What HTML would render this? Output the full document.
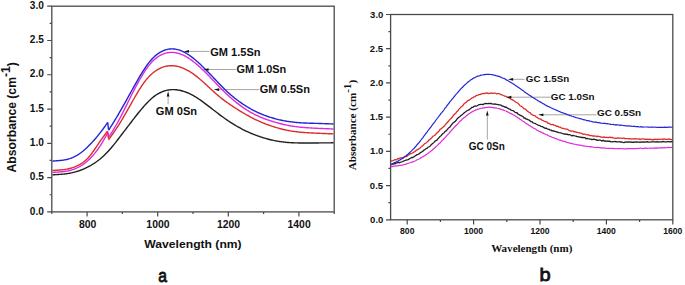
<!DOCTYPE html>
<html><head><meta charset="utf-8"><style>
html,body{margin:0;padding:0;background:#fff;}
svg{display:block;}
</style></head><body>
<svg width="685" height="285" viewBox="0 0 685 285">
<rect width="685" height="285" fill="#fff"/>
<line x1="188.50" y1="51.4" x2="209.5" y2="51.4" stroke="#9a9a9a" stroke-width="0.9"/>
<line x1="208.10" y1="69.5" x2="236" y2="69.5" stroke="#9a9a9a" stroke-width="0.9"/>
<line x1="218.60" y1="89.6" x2="259.3" y2="89.6" stroke="#9a9a9a" stroke-width="0.9"/>
<line x1="512.60" y1="79.3" x2="524.5" y2="79.3" stroke="#9a9a9a" stroke-width="0.9"/>
<line x1="510.90" y1="97.2" x2="550.5" y2="97.2" stroke="#9a9a9a" stroke-width="0.9"/>
<line x1="542.90" y1="114.8" x2="596.5" y2="114.8" stroke="#9a9a9a" stroke-width="0.9"/>
<line x1="168.1" y1="96.00" x2="168.1" y2="104.3" stroke="#9a9a9a" stroke-width="0.9"/>
<line x1="487.3" y1="115.10" x2="487.3" y2="139.6" stroke="#9a9a9a" stroke-width="0.9"/>
<rect x="51.8" y="6.2" width="282.4" height="205.70000000000002" fill="none" stroke="#4a4a4a" stroke-width="1.3"/>
<path d="M87.10,211.9v4.6 M157.70,211.9v4.6 M228.30,211.9v4.6 M298.90,211.9v4.6 M51.80,211.9v2.2 M122.40,211.9v2.2 M193.00,211.9v2.2 M263.60,211.9v2.2 M334.20,211.9v2.2 M51.8,211.90h-4.6 M51.8,177.62h-4.6 M51.8,143.33h-4.6 M51.8,109.05h-4.6 M51.8,74.77h-4.6 M51.8,40.48h-4.6 M51.8,6.20h-4.6 M51.8,194.76h-2.2 M51.8,160.47h-2.2 M51.8,126.19h-2.2 M51.8,91.91h-2.2 M51.8,57.62h-2.2 M51.8,23.34h-2.2" stroke="#4a4a4a" stroke-width="1.2" fill="none"/>
<polyline points="52.50,174.83 53.50,174.78 54.50,174.73 55.50,174.67 56.50,174.61 57.50,174.55 58.50,174.49 59.50,174.42 60.50,174.34 61.50,174.26 62.50,174.17 63.50,174.08 64.50,173.97 65.50,173.85 66.50,173.72 67.50,173.58 68.50,173.43 69.50,173.26 70.50,173.07 71.50,172.87 72.50,172.65 73.50,172.41 74.50,172.16 75.50,171.89 76.50,171.60 77.50,171.29 78.50,170.97 79.50,170.62 80.50,170.26 81.50,169.88 82.50,169.48 83.50,169.06 84.50,168.62 85.50,168.16 86.50,167.68 87.50,167.19 88.50,166.67 89.50,166.13 90.50,165.58 91.50,165.00 92.50,164.40 93.50,163.78 94.50,163.13 95.50,162.46 96.50,161.77 97.50,161.04 98.50,160.28 99.50,159.50 100.50,158.68 101.50,157.83 102.50,156.95 103.50,156.03 104.50,155.08 105.50,154.10 106.50,153.08 107.50,152.03 108.50,150.95 109.50,149.83 110.50,148.69 111.50,147.51 112.50,146.31 113.50,145.09 114.50,143.84 115.50,142.58 116.50,141.31 117.50,140.02 118.50,138.72 119.50,137.41 120.50,136.10 121.50,134.79 122.50,133.48 123.50,132.17 124.50,130.86 125.50,129.55 126.50,128.24 127.50,126.93 128.50,125.62 129.50,124.31 130.50,123.00 131.50,121.70 132.50,120.40 133.50,119.11 134.50,117.82 135.50,116.55 136.50,115.28 137.50,114.02 138.50,112.78 139.50,111.55 140.50,110.33 141.50,109.14 142.50,107.96 143.50,106.80 144.50,105.66 145.50,104.55 146.50,103.46 147.50,102.40 148.50,101.38 149.50,100.39 150.50,99.45 151.50,98.55 152.50,97.70 153.50,96.90 154.50,96.14 155.50,95.42 156.50,94.75 157.50,94.12 158.50,93.54 159.50,93.00 160.50,92.50 161.50,92.04 162.50,91.63 163.50,91.26 164.50,90.92 165.50,90.63 166.50,90.38 167.50,90.16 168.50,89.98 169.50,89.84 170.50,89.74 171.50,89.66 172.50,89.63 173.50,89.62 174.50,89.65 175.50,89.72 176.50,89.81 177.50,89.94 178.50,90.09 179.50,90.28 180.50,90.49 181.50,90.73 182.50,91.00 183.50,91.30 184.50,91.62 185.50,91.97 186.50,92.35 187.50,92.76 188.50,93.19 189.50,93.65 190.50,94.13 191.50,94.64 192.50,95.17 193.50,95.73 194.50,96.31 195.50,96.91 196.50,97.53 197.50,98.17 198.50,98.83 199.50,99.50 200.50,100.19 201.50,100.89 202.50,101.61 203.50,102.33 204.50,103.07 205.50,103.82 206.50,104.57 207.50,105.33 208.50,106.10 209.50,106.87 210.50,107.64 211.50,108.42 212.50,109.19 213.50,109.97 214.50,110.75 215.50,111.52 216.50,112.29 217.50,113.06 218.50,113.82 219.50,114.58 220.50,115.33 221.50,116.07 222.50,116.81 223.50,117.53 224.50,118.25 225.50,118.95 226.50,119.64 227.50,120.33 228.50,121.00 229.50,121.66 230.50,122.31 231.50,122.95 232.50,123.57 233.50,124.19 234.50,124.80 235.50,125.40 236.50,125.99 237.50,126.57 238.50,127.13 239.50,127.69 240.50,128.23 241.50,128.77 242.50,129.29 243.50,129.80 244.50,130.30 245.50,130.79 246.50,131.27 247.50,131.73 248.50,132.19 249.50,132.63 250.50,133.06 251.50,133.48 252.50,133.89 253.50,134.29 254.50,134.69 255.50,135.07 256.50,135.44 257.50,135.81 258.50,136.16 259.50,136.51 260.50,136.84 261.50,137.17 262.50,137.49 263.50,137.80 264.50,138.11 265.50,138.40 266.50,138.68 267.50,138.96 268.50,139.22 269.50,139.48 270.50,139.73 271.50,139.97 272.50,140.19 273.50,140.41 274.50,140.62 275.50,140.82 276.50,141.01 277.50,141.18 278.50,141.35 279.50,141.51 280.50,141.66 281.50,141.80 282.50,141.93 283.50,142.05 284.50,142.16 285.50,142.26 286.50,142.36 287.50,142.44 288.50,142.52 289.50,142.59 290.50,142.65 291.50,142.71 292.50,142.76 293.50,142.80 294.50,142.84 295.50,142.87 296.50,142.90 297.50,142.92 298.50,142.94 299.50,142.96 300.50,142.97 301.50,142.98 302.50,142.99 303.50,143.00 304.50,143.00 305.50,143.00 306.50,143.00 307.50,143.00 308.50,143.00 309.50,142.99 310.50,142.99 311.50,142.98 312.50,142.97 313.50,142.97 314.50,142.96 315.50,142.95 316.50,142.94 317.50,142.93 318.50,142.93 319.50,142.92 320.50,142.91 321.50,142.90 322.50,142.89 323.50,142.89 324.50,142.88 325.50,142.87 326.50,142.86 327.50,142.85 328.50,142.84 329.50,142.83 330.50,142.83 331.50,142.82 332.50,142.81 333.50,142.80" fill="none" stroke="#202020" stroke-width="1.4" stroke-linejoin="round"/>
<polyline points="52.50,170.45 53.50,170.41 54.50,170.36 55.50,170.31 56.50,170.25 57.50,170.19 58.50,170.12 59.50,170.05 60.50,169.96 61.50,169.86 62.50,169.75 63.50,169.63 64.50,169.50 65.50,169.34 66.50,169.17 67.50,168.98 68.50,168.76 69.50,168.53 70.50,168.27 71.50,167.99 72.50,167.68 73.50,167.34 74.50,166.97 75.50,166.57 76.50,166.13 77.50,165.67 78.50,165.16 79.50,164.62 80.50,164.04 81.50,163.42 82.50,162.75 83.50,162.03 84.50,161.25 85.50,160.40 86.50,159.50 87.50,158.51 88.50,157.46 89.50,156.32 90.50,155.09 91.50,153.78 92.50,152.41 93.50,150.98 94.50,149.52 95.50,148.03 96.50,146.53 97.50,145.04 98.50,143.57 99.50,142.13 100.50,140.71 101.50,139.31 102.50,137.93 103.50,136.56 104.50,135.21 105.50,133.86 106.50,132.52 107.50,131.18" fill="none" stroke="#dc2c2c" stroke-width="1.4" stroke-linejoin="round"/>
<polyline points="108.50,139.85 109.50,138.46 110.50,137.07 111.50,135.68 112.50,134.27 113.50,132.85 114.50,131.40 115.50,129.94 116.50,128.45 117.50,126.92 118.50,125.37 119.50,123.77 120.50,122.15 121.50,120.50 122.50,118.82 123.50,117.12 124.50,115.40 125.50,113.66 126.50,111.91 127.50,110.15 128.50,108.38 129.50,106.61 130.50,104.83 131.50,103.05 132.50,101.28 133.50,99.52 134.50,97.77 135.50,96.03 136.50,94.32 137.50,92.63 138.50,90.97 139.50,89.35 140.50,87.76 141.50,86.23 142.50,84.74 143.50,83.32 144.50,81.95 145.50,80.65 146.50,79.42 147.50,78.25 148.50,77.14 149.50,76.09 150.50,75.10 151.50,74.16 152.50,73.28 153.50,72.46 154.50,71.68 155.50,70.96 156.50,70.29 157.50,69.67 158.50,69.10 159.50,68.58 160.50,68.10 161.50,67.67 162.50,67.29 163.50,66.95 164.50,66.65 165.50,66.40 166.50,66.19 167.50,66.01 168.50,65.88 169.50,65.79 170.50,65.74 171.50,65.72 172.50,65.74 173.50,65.80 174.50,65.90 175.50,66.03 176.50,66.20 177.50,66.40 178.50,66.64 179.50,66.91 180.50,67.22 181.50,67.57 182.50,67.94 183.50,68.35 184.50,68.79 185.50,69.27 186.50,69.77 187.50,70.30 188.50,70.87 189.50,71.46 190.50,72.09 191.50,72.74 192.50,73.42 193.50,74.12 194.50,74.85 195.50,75.60 196.50,76.38 197.50,77.17 198.50,77.99 199.50,78.82 200.50,79.67 201.50,80.54 202.50,81.42 203.50,82.32 204.50,83.22 205.50,84.13 206.50,85.05 207.50,85.98 208.50,86.90 209.50,87.83 210.50,88.75 211.50,89.67 212.50,90.59 213.50,91.49 214.50,92.39 215.50,93.28 216.50,94.16 217.50,95.03 218.50,95.88 219.50,96.71 220.50,97.53 221.50,98.33 222.50,99.11 223.50,99.87 224.50,100.62 225.50,101.36 226.50,102.08 227.50,102.79 228.50,103.49 229.50,104.18 230.50,104.86 231.50,105.52 232.50,106.19 233.50,106.84 234.50,107.49 235.50,108.14 236.50,108.78 237.50,109.41 238.50,110.04 239.50,110.67 240.50,111.28 241.50,111.90 242.50,112.50 243.50,113.09 244.50,113.68 245.50,114.26 246.50,114.83 247.50,115.39 248.50,115.94 249.50,116.48 250.50,117.02 251.50,117.54 252.50,118.06 253.50,118.56 254.50,119.06 255.50,119.55 256.50,120.02 257.50,120.49 258.50,120.95 259.50,121.40 260.50,121.84 261.50,122.27 262.50,122.69 263.50,123.10 264.50,123.51 265.50,123.90 266.50,124.28 267.50,124.65 268.50,125.01 269.50,125.37 270.50,125.71 271.50,126.05 272.50,126.38 273.50,126.70 274.50,127.02 275.50,127.32 276.50,127.62 277.50,127.92 278.50,128.20 279.50,128.48 280.50,128.74 281.50,129.00 282.50,129.25 283.50,129.49 284.50,129.72 285.50,129.95 286.50,130.16 287.50,130.36 288.50,130.55 289.50,130.73 290.50,130.91 291.50,131.07 292.50,131.23 293.50,131.38 294.50,131.52 295.50,131.65 296.50,131.77 297.50,131.89 298.50,132.00 299.50,132.10 300.50,132.20 301.50,132.29 302.50,132.38 303.50,132.46 304.50,132.53 305.50,132.60 306.50,132.67 307.50,132.73 308.50,132.79 309.50,132.84 310.50,132.90 311.50,132.95 312.50,133.00 313.50,133.04 314.50,133.09 315.50,133.14 316.50,133.18 317.50,133.23 318.50,133.27 319.50,133.31 320.50,133.36 321.50,133.40 322.50,133.44 323.50,133.49 324.50,133.53 325.50,133.57 326.50,133.61 327.50,133.66 328.50,133.70 329.50,133.74 330.50,133.78 331.50,133.82 332.50,133.87 333.50,133.91" fill="none" stroke="#dc2c2c" stroke-width="1.4" stroke-linejoin="round"/>
<polyline points="52.50,172.35 53.50,172.30 54.50,172.25 55.50,172.20 56.50,172.15 57.50,172.09 58.50,172.03 59.50,171.96 60.50,171.87 61.50,171.78 62.50,171.68 63.50,171.57 64.50,171.44 65.50,171.29 66.50,171.13 67.50,170.94 68.50,170.74 69.50,170.51 70.50,170.26 71.50,169.98 72.50,169.67 73.50,169.34 74.50,168.97 75.50,168.58 76.50,168.15 77.50,167.69 78.50,167.19 79.50,166.66 80.50,166.09 81.50,165.48 82.50,164.83 83.50,164.14 84.50,163.41 85.50,162.64 86.50,161.83 87.50,160.97 88.50,160.07 89.50,159.12 90.50,158.13 91.50,157.09 92.50,156.00 93.50,154.86 94.50,153.67 95.50,152.42 96.50,151.12 97.50,149.77 98.50,148.35 99.50,146.88 100.50,145.35 101.50,143.76 102.50,142.12 103.50,140.44 104.50,138.72 105.50,136.98 106.50,135.22 107.50,133.45 107.80,132.92" fill="none" stroke="#dc2cdc" stroke-width="1.4" stroke-linejoin="round"/>
<polyline points="108.80,137.16 109.80,135.57 110.80,133.98 111.80,132.38 112.80,130.76 113.80,129.12 114.80,127.45 115.80,125.75 116.80,124.01 117.80,122.23 118.80,120.40 119.80,118.52 120.80,116.60 121.80,114.65 122.80,112.66 123.80,110.66 124.80,108.64 125.80,106.61 126.80,104.57 127.80,102.54 128.80,100.51 129.80,98.49 130.80,96.49 131.80,94.51 132.80,92.54 133.80,90.59 134.80,88.67 135.80,86.77 136.80,84.90 137.80,83.06 138.80,81.25 139.80,79.47 140.80,77.73 141.80,76.03 142.80,74.38 143.80,72.77 144.80,71.21 145.80,69.71 146.80,68.27 147.80,66.89 148.80,65.58 149.80,64.35 150.80,63.18 151.80,62.08 152.80,61.06 153.80,60.09 154.80,59.20 155.80,58.37 156.80,57.60 157.80,56.89 158.80,56.23 159.80,55.64 160.80,55.09 161.80,54.60 162.80,54.17 163.80,53.78 164.80,53.44 165.80,53.15 166.80,52.91 167.80,52.72 168.80,52.57 169.80,52.47 170.80,52.41 171.80,52.39 172.80,52.42 173.80,52.49 174.80,52.61 175.80,52.76 176.80,52.96 177.80,53.19 178.80,53.47 179.80,53.79 180.80,54.15 181.80,54.54 182.80,54.97 183.80,55.44 184.80,55.95 185.80,56.49 186.80,57.06 187.80,57.67 188.80,58.30 189.80,58.97 190.80,59.67 191.80,60.40 192.80,61.15 193.80,61.93 194.80,62.73 195.80,63.56 196.80,64.40 197.80,65.27 198.80,66.16 199.80,67.06 200.80,67.98 201.80,68.92 202.80,69.87 203.80,70.83 204.80,71.81 205.80,72.80 206.80,73.80 207.80,74.81 208.80,75.83 209.80,76.86 210.80,77.89 211.80,78.94 212.80,79.98 213.80,81.03 214.80,82.08 215.80,83.13 216.80,84.18 217.80,85.23 218.80,86.26 219.80,87.29 220.80,88.32 221.80,89.33 222.80,90.33 223.80,91.31 224.80,92.29 225.80,93.25 226.80,94.20 227.80,95.14 228.80,96.06 229.80,96.96 230.80,97.85 231.80,98.72 232.80,99.58 233.80,100.42 234.80,101.24 235.80,102.05 236.80,102.85 237.80,103.63 238.80,104.40 239.80,105.15 240.80,105.88 241.80,106.60 242.80,107.31 243.80,108.00 244.80,108.67 245.80,109.33 246.80,109.97 247.80,110.59 248.80,111.20 249.80,111.79 250.80,112.37 251.80,112.92 252.80,113.47 253.80,114.00 254.80,114.51 255.80,115.01 256.80,115.49 257.80,115.96 258.80,116.42 259.80,116.86 260.80,117.28 261.80,117.70 262.80,118.10 263.80,118.49 264.80,118.87 265.80,119.24 266.80,119.59 267.80,119.94 268.80,120.27 269.80,120.60 270.80,120.92 271.80,121.23 272.80,121.54 273.80,121.84 274.80,122.13 275.80,122.41 276.80,122.70 277.80,122.97 278.80,123.24 279.80,123.50 280.80,123.76 281.80,124.01 282.80,124.25 283.80,124.48 284.80,124.71 285.80,124.92 286.80,125.13 287.80,125.33 288.80,125.52 289.80,125.70 290.80,125.88 291.80,126.04 292.80,126.20 293.80,126.35 294.80,126.50 295.80,126.64 296.80,126.77 297.80,126.89 298.80,127.00 299.80,127.11 300.80,127.22 301.80,127.31 302.80,127.41 303.80,127.49 304.80,127.57 305.80,127.65 306.80,127.72 307.80,127.79 308.80,127.85 309.80,127.91 310.80,127.97 311.80,128.03 312.80,128.08 313.80,128.13 314.80,128.19 315.80,128.24 316.80,128.28 317.80,128.33 318.80,128.38 319.80,128.43 320.80,128.47 321.80,128.52 322.80,128.56 323.80,128.61 324.80,128.65 325.80,128.69 326.80,128.73 327.80,128.78 328.80,128.82 329.80,128.86 330.80,128.90 331.80,128.94 332.80,128.99 333.50,129.01" fill="none" stroke="#dc2cdc" stroke-width="1.4" stroke-linejoin="round"/>
<polyline points="52.50,161.06 53.50,161.01 54.50,160.95 55.50,160.89 56.50,160.82 57.50,160.75 58.50,160.66 59.50,160.57 60.50,160.47 61.50,160.36 62.50,160.23 63.50,160.08 64.50,159.91 65.50,159.72 66.50,159.51 67.50,159.27 68.50,159.00 69.50,158.70 70.50,158.37 71.50,158.00 72.50,157.60 73.50,157.17 74.50,156.69 75.50,156.18 76.50,155.63 77.50,155.05 78.50,154.42 79.50,153.75 80.50,153.05 81.50,152.30 82.50,151.52 83.50,150.69 84.50,149.84 85.50,148.94 86.50,148.02 87.50,147.07 88.50,146.09 89.50,145.08 90.50,144.04 91.50,142.99 92.50,141.90 93.50,140.80 94.50,139.67 95.50,138.51 96.50,137.33 97.50,136.13 98.50,134.90 99.50,133.65 100.50,132.37 101.50,131.07 102.50,129.74 103.50,128.39 104.50,127.01 105.50,125.61 106.50,124.19 107.50,122.77 107.70,122.48" fill="none" stroke="#2424d4" stroke-width="1.4" stroke-linejoin="round"/>
<polyline points="108.50,130.37 109.50,128.79 110.50,127.20 111.50,125.61 112.50,124.01 113.50,122.40 114.50,120.78 115.50,119.15 116.50,117.50 117.50,115.83 118.50,114.15 119.50,112.44 120.50,110.72 121.50,108.97 122.50,107.22 123.50,105.45 124.50,103.66 125.50,101.87 126.50,100.07 127.50,98.27 128.50,96.46 129.50,94.65 130.50,92.84 131.50,91.03 132.50,89.23 133.50,87.43 134.50,85.64 135.50,83.86 136.50,82.10 137.50,80.35 138.50,78.62 139.50,76.90 140.50,75.22 141.50,73.56 142.50,71.94 143.50,70.35 144.50,68.81 145.50,67.31 146.50,65.87 147.50,64.48 148.50,63.15 149.50,61.89 150.50,60.69 151.50,59.55 152.50,58.48 153.50,57.48 154.50,56.53 155.50,55.65 156.50,54.82 157.50,54.06 158.50,53.35 159.50,52.70 160.50,52.10 161.50,51.55 162.50,51.06 163.50,50.62 164.50,50.23 165.50,49.89 166.50,49.60 167.50,49.36 168.50,49.18 169.50,49.04 170.50,48.94 171.50,48.90 172.50,48.90 173.50,48.95 174.50,49.04 175.50,49.18 176.50,49.36 177.50,49.59 178.50,49.86 179.50,50.17 180.50,50.53 181.50,50.92 182.50,51.36 183.50,51.83 184.50,52.35 185.50,52.90 186.50,53.48 187.50,54.09 188.50,54.74 189.50,55.42 190.50,56.13 191.50,56.86 192.50,57.63 193.50,58.41 194.50,59.23 195.50,60.06 196.50,60.92 197.50,61.79 198.50,62.69 199.50,63.60 200.50,64.53 201.50,65.47 202.50,66.43 203.50,67.40 204.50,68.39 205.50,69.39 206.50,70.40 207.50,71.42 208.50,72.45 209.50,73.48 210.50,74.53 211.50,75.58 212.50,76.64 213.50,77.71 214.50,78.77 215.50,79.83 216.50,80.89 217.50,81.95 218.50,83.00 219.50,84.04 220.50,85.07 221.50,86.10 222.50,87.11 223.50,88.10 224.50,89.09 225.50,90.05 226.50,91.01 227.50,91.94 228.50,92.86 229.50,93.75 230.50,94.63 231.50,95.49 232.50,96.33 233.50,97.15 234.50,97.95 235.50,98.73 236.50,99.51 237.50,100.26 238.50,101.00 239.50,101.73 240.50,102.44 241.50,103.13 242.50,103.81 243.50,104.48 244.50,105.13 245.50,105.77 246.50,106.39 247.50,107.00 248.50,107.60 249.50,108.18 250.50,108.75 251.50,109.31 252.50,109.85 253.50,110.37 254.50,110.89 255.50,111.39 256.50,111.87 257.50,112.35 258.50,112.81 259.50,113.25 260.50,113.69 261.50,114.11 262.50,114.52 263.50,114.91 264.50,115.30 265.50,115.67 266.50,116.03 267.50,116.38 268.50,116.72 269.50,117.05 270.50,117.37 271.50,117.68 272.50,117.98 273.50,118.27 274.50,118.54 275.50,118.82 276.50,119.08 277.50,119.33 278.50,119.57 279.50,119.81 280.50,120.03 281.50,120.25 282.50,120.45 283.50,120.65 284.50,120.84 285.50,121.02 286.50,121.19 287.50,121.35 288.50,121.51 289.50,121.65 290.50,121.79 291.50,121.92 292.50,122.04 293.50,122.16 294.50,122.26 295.50,122.36 296.50,122.46 297.50,122.54 298.50,122.62 299.50,122.70 300.50,122.77 301.50,122.83 302.50,122.89 303.50,122.94 304.50,122.99 305.50,123.03 306.50,123.07 307.50,123.11 308.50,123.15 309.50,123.18 310.50,123.21 311.50,123.24 312.50,123.27 313.50,123.30 314.50,123.33 315.50,123.36 316.50,123.39 317.50,123.42 318.50,123.45 319.50,123.49 320.50,123.52 321.50,123.55 322.50,123.59 323.50,123.62 324.50,123.66 325.50,123.69 326.50,123.73 327.50,123.77 328.50,123.80 329.50,123.84 330.50,123.88 331.50,123.91 332.50,123.95 333.50,123.99" fill="none" stroke="#2424d4" stroke-width="1.4" stroke-linejoin="round"/>
<path d="M107.7,121.6L108.2,128.8 M107.3,131.5L107.8,139 M107.5,132.5L108,136.5" stroke-width="1.4" fill="none" stroke="none"/>
<line x1="107.7" y1="122.2" x2="108.5" y2="129.7" stroke="#2424d4" stroke-width="1.4"/>
<line x1="107.5" y1="131.3" x2="108.5" y2="138.7" stroke="#dc2c2c" stroke-width="1.4"/>
<line x1="107.8" y1="132.6" x2="108.8" y2="135.5" stroke="#dc2cdc" stroke-width="1.4"/>
<rect x="390.6" y="14.5" width="282.19999999999993" height="205.3" fill="none" stroke="#4a4a4a" stroke-width="1.3"/>
<path d="M407.20,219.8v4.6 M473.60,219.8v4.6 M540.00,219.8v4.6 M606.40,219.8v4.6 M672.80,219.8v4.6 M440.40,219.8v2.2 M506.80,219.8v2.2 M573.20,219.8v2.2 M639.60,219.8v2.2 M390.6,219.80h-4.6 M390.6,185.58h-4.6 M390.6,151.37h-4.6 M390.6,117.15h-4.6 M390.6,82.93h-4.6 M390.6,48.72h-4.6 M390.6,14.50h-4.6 M390.6,202.69h-2.2 M390.6,168.47h-2.2 M390.6,134.26h-2.2 M390.6,100.04h-2.2 M390.6,65.83h-2.2 M390.6,31.61h-2.2" stroke="#4a4a4a" stroke-width="1.2" fill="none"/>
<polyline points="391.00,166.68 392.00,166.59 393.00,166.40 394.00,166.19 395.00,166.12 396.00,165.91 397.00,165.90 398.00,165.90 399.00,165.52 400.00,165.33 401.00,165.29 402.00,165.08 403.00,164.84 404.00,164.49 405.00,164.37 406.00,164.20 407.00,163.69 408.00,163.50 409.00,163.02 410.00,162.77 411.00,162.36 412.00,162.18 413.00,161.67 414.00,161.44 415.00,160.99 416.00,160.50 417.00,159.75 418.00,159.49 419.00,159.03 420.00,158.51 421.00,157.75 422.00,157.30 423.00,156.63 424.00,156.02 425.00,155.60 426.00,154.70 427.00,154.10 428.00,153.49 429.00,152.57 430.00,151.85 431.00,151.08 432.00,150.26 433.00,149.26 434.00,148.55 435.00,147.81 436.00,146.55 437.00,145.90 438.00,144.86 439.00,143.78 440.00,143.10 441.00,141.93 442.00,140.65 443.00,139.75 444.00,138.74 445.00,137.56 446.00,136.57 447.00,135.38 448.00,134.36 449.00,133.34 450.00,131.98 451.00,130.98 452.00,129.79 453.00,128.76 454.00,127.51 455.00,126.50 456.00,125.48 457.00,124.56 458.00,123.56 459.00,122.25 460.00,121.32 461.00,120.52 462.00,119.27 463.00,118.54 464.00,117.70 465.00,117.01 466.00,116.12 467.00,115.21 468.00,114.46 469.00,113.76 470.00,113.31 471.00,112.44 472.00,111.87 473.00,111.40 474.00,110.83 475.00,110.35 476.00,109.80 477.00,109.54 478.00,109.12 479.00,108.99 480.00,108.63 481.00,108.29 482.00,108.14 483.00,107.83 484.00,107.83 485.00,107.57 486.00,107.54 487.00,107.24 488.00,107.40 489.00,107.14 490.00,107.11 491.00,107.36 492.00,107.35 493.00,107.57 494.00,107.94 495.00,107.72 496.00,107.92 497.00,108.23 498.00,108.49 499.00,108.66 500.00,108.94 501.00,109.35 502.00,109.67 503.00,109.84 504.00,110.33 505.00,110.75 506.00,111.05 507.00,111.65 508.00,111.99 509.00,112.70 510.00,113.12 511.00,113.64 512.00,114.11 513.00,114.73 514.00,115.09 515.00,115.79 516.00,116.58 517.00,116.91 518.00,117.91 519.00,118.25 520.00,119.21 521.00,119.69 522.00,120.56 523.00,121.17 524.00,121.66 525.00,122.68 526.00,123.38 527.00,123.88 528.00,124.53 529.00,125.20 530.00,125.75 531.00,126.64 532.00,127.06 533.00,127.73 534.00,128.24 535.00,128.84 536.00,129.33 537.00,130.19 538.00,130.57 539.00,131.24 540.00,131.65 541.00,132.08 542.00,132.63 543.00,133.09 544.00,133.64 545.00,134.07 546.00,134.55 547.00,134.87 548.00,135.39 549.00,136.13 550.00,136.28 551.00,136.66 552.00,137.24 553.00,137.77 554.00,137.82 555.00,138.36 556.00,138.69 557.00,138.92 558.00,139.58 559.00,139.84 560.00,140.20 561.00,140.43 562.00,140.90 563.00,141.10 564.00,141.46 565.00,141.64 566.00,141.92 567.00,142.50 568.00,142.56 569.00,142.92 570.00,143.13 571.00,143.33 572.00,143.56 573.00,143.93 574.00,144.04 575.00,144.27 576.00,144.49 577.00,144.82 578.00,144.95 579.00,145.10 580.00,145.16 581.00,145.22 582.00,145.67 583.00,145.82 584.00,145.84 585.00,146.07 586.00,146.24 587.00,146.38 588.00,146.52 589.00,146.49 590.00,146.85 591.00,146.64 592.00,147.02 593.00,147.09 594.00,147.25 595.00,147.48 596.00,147.55 597.00,147.34 598.00,147.38 599.00,147.78 600.00,147.65 601.00,147.86 602.00,148.05 603.00,147.84 604.00,147.86 605.00,148.22 606.00,148.26 607.00,148.29 608.00,148.39 609.00,148.34 610.00,148.31 611.00,148.51 612.00,148.46 613.00,148.41 614.00,148.70 615.00,148.66 616.00,148.73 617.00,148.58 618.00,148.64 619.00,148.61 620.00,148.63 621.00,148.76 622.00,148.64 623.00,148.78 624.00,148.77 625.00,148.97 626.00,148.55 627.00,148.81 628.00,148.68 629.00,148.68 630.00,148.49 631.00,148.59 632.00,148.72 633.00,148.60 634.00,148.60 635.00,148.54 636.00,148.69 637.00,148.53 638.00,148.25 639.00,148.41 640.00,148.23 641.00,148.05 642.00,148.36 643.00,148.55 644.00,148.37 645.00,148.20 646.00,148.20 647.00,148.42 648.00,148.27 649.00,148.23 650.00,148.19 651.00,148.17 652.00,148.23 653.00,148.17 654.00,148.10 655.00,147.91 656.00,148.06 657.00,147.89 658.00,148.07 659.00,147.75 660.00,147.85 661.00,147.83 662.00,147.64 663.00,147.97 664.00,147.90 665.00,147.63 666.00,147.74 667.00,147.66 668.00,147.26 669.00,147.57 670.00,147.49 671.00,147.47 672.00,147.30 672.50,147.38" fill="none" stroke="#dc2cdc" stroke-width="1.2" stroke-linejoin="round"/>
<polyline points="391.00,164.38 392.00,164.49 393.00,164.05 394.00,163.73 395.00,163.87 396.00,163.10 397.00,162.89 398.00,162.28 399.00,162.85 400.00,162.42 401.00,162.11 402.00,161.74 403.00,161.28 404.00,160.97 405.00,160.50 406.00,160.14 407.00,159.82 408.00,159.78 409.00,159.12 410.00,158.53 411.00,157.94 412.00,157.44 413.00,157.50 414.00,156.71 415.00,156.07 416.00,155.41 417.00,154.64 418.00,154.31 419.00,153.94 420.00,152.99 421.00,152.39 422.00,151.72 423.00,151.12 424.00,150.00 425.00,149.62 426.00,148.73 427.00,148.40 428.00,147.22 429.00,146.76 430.00,146.19 431.00,144.90 432.00,143.97 433.00,143.31 434.00,142.37 435.00,141.22 436.00,140.67 437.00,140.13 438.00,138.61 439.00,137.66 440.00,136.47 441.00,135.82 442.00,134.43 443.00,133.45 444.00,133.02 445.00,131.45 446.00,130.91 447.00,129.97 448.00,128.61 449.00,127.64 450.00,126.94 451.00,125.35 452.00,124.21 453.00,122.98 454.00,122.30 455.00,121.64 456.00,120.51 457.00,119.04 458.00,118.09 459.00,117.23 460.00,116.51 461.00,115.48 462.00,114.72 463.00,113.90 464.00,112.94 465.00,112.22 466.00,111.54 467.00,110.75 468.00,110.22 469.00,109.91 470.00,108.99 471.00,108.29 472.00,107.32 473.00,107.34 474.00,106.30 475.00,106.01 476.00,106.18 477.00,105.78 478.00,105.24 479.00,104.55 480.00,104.61 481.00,104.30 482.00,104.41 483.00,104.63 484.00,103.97 485.00,103.59 486.00,103.39 487.00,103.60 488.00,103.53 489.00,103.27 490.00,103.60 491.00,103.32 492.00,103.96 493.00,104.04 494.00,104.17 495.00,103.94 496.00,104.36 497.00,104.41 498.00,104.57 499.00,104.85 500.00,104.89 501.00,105.16 502.00,106.06 503.00,106.17 504.00,106.66 505.00,107.26 506.00,107.00 507.00,107.68 508.00,108.39 509.00,108.92 510.00,109.23 511.00,110.10 512.00,110.42 513.00,110.61 514.00,111.24 515.00,112.24 516.00,112.73 517.00,112.73 518.00,114.13 519.00,114.54 520.00,115.33 521.00,115.50 522.00,116.12 523.00,116.52 524.00,118.04 525.00,117.96 526.00,119.00 527.00,119.03 528.00,119.82 529.00,119.93 530.00,120.82 531.00,121.72 532.00,121.70 533.00,122.82 534.00,123.16 535.00,123.32 536.00,123.96 537.00,124.46 538.00,125.04 539.00,125.38 540.00,125.76 541.00,126.34 542.00,126.59 543.00,126.94 544.00,127.66 545.00,128.29 546.00,128.07 547.00,128.83 548.00,129.03 549.00,129.30 550.00,130.09 551.00,130.08 552.00,130.91 553.00,130.65 554.00,131.25 555.00,131.39 556.00,131.55 557.00,132.16 558.00,132.25 559.00,132.70 560.00,132.80 561.00,132.79 562.00,133.29 563.00,133.57 564.00,134.03 565.00,133.79 566.00,134.24 567.00,134.04 568.00,134.85 569.00,134.64 570.00,134.67 571.00,135.32 572.00,135.82 573.00,135.36 574.00,135.68 575.00,135.97 576.00,136.07 577.00,136.65 578.00,136.55 579.00,136.77 580.00,137.30 581.00,137.16 582.00,137.64 583.00,137.48 584.00,137.61 585.00,137.64 586.00,138.75 587.00,138.38 588.00,138.70 589.00,138.80 590.00,139.02 591.00,139.16 592.00,139.79 593.00,139.21 594.00,139.24 595.00,139.53 596.00,139.59 597.00,140.26 598.00,140.41 599.00,140.10 600.00,140.12 601.00,140.51 602.00,141.07 603.00,140.13 604.00,141.08 605.00,140.78 606.00,141.41 607.00,140.98 608.00,141.26 609.00,141.04 610.00,141.25 611.00,141.92 612.00,141.84 613.00,141.60 614.00,141.54 615.00,141.33 616.00,141.76 617.00,141.89 618.00,141.92 619.00,141.95 620.00,141.72 621.00,142.02 622.00,142.05 623.00,142.40 624.00,142.56 625.00,142.08 626.00,141.94 627.00,142.12 628.00,142.00 629.00,141.97 630.00,142.15 631.00,141.91 632.00,142.33 633.00,142.16 634.00,142.25 635.00,142.14 636.00,142.01 637.00,141.95 638.00,142.13 639.00,142.05 640.00,142.24 641.00,142.17 642.00,141.83 643.00,142.18 644.00,141.82 645.00,141.99 646.00,142.06 647.00,141.61 648.00,142.14 649.00,142.14 650.00,142.05 651.00,141.97 652.00,141.97 653.00,141.80 654.00,141.96 655.00,141.87 656.00,142.01 657.00,141.67 658.00,142.01 659.00,141.97 660.00,141.87 661.00,141.78 662.00,142.00 663.00,141.43 664.00,141.93 665.00,141.86 666.00,141.84 667.00,141.84 668.00,141.56 669.00,141.63 670.00,141.83 671.00,141.76 672.00,141.68 672.50,141.23" fill="none" stroke="#202020" stroke-width="1.3" stroke-linejoin="round"/>
<polyline points="391.00,161.01 392.00,160.93 393.00,160.65 394.00,160.21 395.00,159.51 396.00,159.87 397.00,159.33 398.00,158.45 399.00,158.88 400.00,158.10 401.00,157.82 402.00,157.64 403.00,157.75 404.00,156.96 405.00,156.71 406.00,156.65 407.00,156.16 408.00,155.26 409.00,154.73 410.00,153.95 411.00,153.55 412.00,153.25 413.00,152.65 414.00,151.96 415.00,151.54 416.00,150.44 417.00,149.93 418.00,149.42 419.00,148.66 420.00,148.04 421.00,147.11 422.00,146.15 423.00,145.52 424.00,144.37 425.00,143.38 426.00,143.10 427.00,142.09 428.00,141.32 429.00,139.94 430.00,139.38 431.00,138.43 432.00,137.45 433.00,136.18 434.00,135.73 435.00,135.10 436.00,134.02 437.00,132.81 438.00,131.98 439.00,131.19 440.00,129.32 441.00,128.97 442.00,128.12 443.00,127.12 444.00,126.33 445.00,125.13 446.00,123.86 447.00,122.78 448.00,121.80 449.00,120.37 450.00,119.37 451.00,118.48 452.00,117.60 453.00,115.92 454.00,114.81 455.00,113.72 456.00,112.88 457.00,111.41 458.00,110.68 459.00,108.98 460.00,108.12 461.00,107.08 462.00,106.32 463.00,105.42 464.00,103.84 465.00,103.08 466.00,102.53 467.00,101.45 468.00,100.44 469.00,100.32 470.00,99.47 471.00,98.80 472.00,97.93 473.00,97.72 474.00,96.85 475.00,96.68 476.00,95.70 477.00,95.28 478.00,95.15 479.00,94.56 480.00,94.58 481.00,94.18 482.00,93.63 483.00,93.65 484.00,93.35 485.00,93.50 486.00,92.99 487.00,92.93 488.00,93.28 489.00,93.49 490.00,93.42 491.00,92.96 492.00,93.05 493.00,93.45 494.00,93.14 495.00,93.06 496.00,93.49 497.00,93.76 498.00,93.65 499.00,93.68 500.00,94.00 501.00,94.82 502.00,94.78 503.00,95.28 504.00,95.74 505.00,96.24 506.00,96.42 507.00,97.08 508.00,97.21 509.00,97.85 510.00,98.22 511.00,99.32 512.00,99.62 513.00,100.06 514.00,100.79 515.00,101.48 516.00,102.39 517.00,102.52 518.00,103.38 519.00,104.28 520.00,105.75 521.00,106.12 522.00,106.63 523.00,107.62 524.00,108.74 525.00,108.95 526.00,109.70 527.00,110.87 528.00,111.45 529.00,112.24 530.00,112.68 531.00,114.00 532.00,114.64 533.00,115.03 534.00,115.71 535.00,115.67 536.00,116.95 537.00,117.34 538.00,118.08 539.00,118.70 540.00,119.00 541.00,119.19 542.00,120.22 543.00,120.45 544.00,121.04 545.00,121.44 546.00,121.97 547.00,121.92 548.00,123.24 549.00,123.42 550.00,124.05 551.00,124.67 552.00,124.57 553.00,124.50 554.00,125.10 555.00,125.38 556.00,125.91 557.00,126.41 558.00,126.23 559.00,127.15 560.00,127.02 561.00,127.79 562.00,128.01 563.00,128.27 564.00,128.64 565.00,128.82 566.00,129.10 567.00,129.13 568.00,129.84 569.00,130.59 570.00,130.91 571.00,131.02 572.00,131.15 573.00,131.07 574.00,131.88 575.00,131.77 576.00,132.03 577.00,132.24 578.00,132.60 579.00,132.72 580.00,133.06 581.00,133.06 582.00,133.48 583.00,134.38 584.00,134.03 585.00,134.21 586.00,134.63 587.00,134.88 588.00,134.64 589.00,135.06 590.00,135.54 591.00,135.56 592.00,135.69 593.00,136.22 594.00,135.82 595.00,136.16 596.00,136.16 597.00,136.80 598.00,136.07 599.00,136.52 600.00,136.67 601.00,137.08 602.00,137.18 603.00,137.48 604.00,136.83 605.00,137.51 606.00,137.33 607.00,137.32 608.00,137.70 609.00,137.41 610.00,137.20 611.00,137.69 612.00,137.48 613.00,137.75 614.00,138.07 615.00,138.11 616.00,138.48 617.00,138.09 618.00,137.81 619.00,138.05 620.00,138.05 621.00,138.03 622.00,138.48 623.00,138.26 624.00,137.97 625.00,138.68 626.00,138.52 627.00,138.67 628.00,138.65 629.00,138.82 630.00,138.72 631.00,139.06 632.00,138.90 633.00,138.93 634.00,138.98 635.00,138.55 636.00,138.92 637.00,138.94 638.00,139.09 639.00,138.74 640.00,139.53 641.00,139.18 642.00,138.89 643.00,138.80 644.00,139.19 645.00,139.27 646.00,139.14 647.00,139.37 648.00,139.21 649.00,139.53 650.00,139.23 651.00,139.42 652.00,139.69 653.00,140.10 654.00,139.21 655.00,139.35 656.00,139.26 657.00,139.67 658.00,139.19 659.00,139.35 660.00,139.46 661.00,139.22 662.00,139.22 663.00,139.33 664.00,138.92 665.00,139.07 666.00,139.32 667.00,139.45 668.00,139.35 669.00,138.94 670.00,139.26 671.00,139.56 672.00,139.48 672.50,139.32" fill="none" stroke="#dc2c2c" stroke-width="1.3" stroke-linejoin="round"/>
<polyline points="391.00,164.33 392.00,164.02 393.00,163.43 394.00,162.90 395.00,162.46 396.00,162.19 397.00,161.56 398.00,161.13 399.00,160.42 400.00,159.99 401.00,159.24 402.00,158.66 403.00,158.26 404.00,157.40 405.00,156.55 406.00,155.83 407.00,155.07 408.00,154.32 409.00,153.27 410.00,152.23 411.00,151.41 412.00,150.44 413.00,149.41 414.00,148.45 415.00,147.24 416.00,146.15 417.00,144.79 418.00,143.79 419.00,142.69 420.00,141.31 421.00,139.99 422.00,138.69 423.00,137.56 424.00,135.98 425.00,134.74 426.00,133.47 427.00,132.17 428.00,130.72 429.00,129.46 430.00,128.07 431.00,126.77 432.00,125.41 433.00,123.98 434.00,122.76 435.00,121.52 436.00,120.00 437.00,118.75 438.00,117.51 439.00,116.02 440.00,114.82 441.00,113.38 442.00,112.28 443.00,111.09 444.00,109.75 445.00,108.22 446.00,107.02 447.00,105.66 448.00,104.36 449.00,103.23 450.00,101.66 451.00,100.64 452.00,99.27 453.00,98.18 454.00,96.83 455.00,95.53 456.00,94.43 457.00,93.30 458.00,92.07 459.00,90.98 460.00,89.77 461.00,88.53 462.00,87.78 463.00,86.73 464.00,85.69 465.00,84.72 466.00,83.90 467.00,82.87 468.00,82.00 469.00,81.26 470.00,80.65 471.00,79.68 472.00,79.28 473.00,78.49 474.00,77.87 475.00,77.59 476.00,76.97 477.00,76.41 478.00,76.11 479.00,75.89 480.00,75.60 481.00,75.17 482.00,75.02 483.00,74.86 484.00,74.57 485.00,74.55 486.00,74.43 487.00,74.33 488.00,74.32 489.00,74.40 490.00,74.46 491.00,74.49 492.00,74.63 493.00,74.94 494.00,75.04 495.00,75.33 496.00,75.61 497.00,75.83 498.00,76.31 499.00,76.34 500.00,76.88 501.00,77.16 502.00,77.81 503.00,78.24 504.00,78.35 505.00,78.95 506.00,79.64 507.00,80.19 508.00,80.75 509.00,81.26 510.00,81.91 511.00,82.55 512.00,83.11 513.00,83.86 514.00,84.20 515.00,85.16 516.00,85.67 517.00,86.56 518.00,87.14 519.00,87.77 520.00,88.60 521.00,89.19 522.00,89.90 523.00,90.54 524.00,91.41 525.00,92.17 526.00,92.93 527.00,93.51 528.00,94.32 529.00,94.91 530.00,95.57 531.00,96.31 532.00,97.02 533.00,97.53 534.00,98.18 535.00,98.82 536.00,99.47 537.00,99.98 538.00,100.78 539.00,101.23 540.00,101.91 541.00,102.36 542.00,103.05 543.00,103.61 544.00,104.08 545.00,104.87 546.00,105.25 547.00,105.92 548.00,106.36 549.00,106.71 550.00,107.24 551.00,107.82 552.00,108.27 553.00,108.75 554.00,109.19 555.00,109.49 556.00,110.11 557.00,110.35 558.00,111.04 559.00,111.36 560.00,111.77 561.00,112.23 562.00,112.67 563.00,112.89 564.00,113.24 565.00,113.68 566.00,113.94 567.00,114.40 568.00,115.01 569.00,115.09 570.00,115.59 571.00,115.72 572.00,116.21 573.00,116.47 574.00,116.81 575.00,117.19 576.00,117.62 577.00,117.76 578.00,118.06 579.00,118.24 580.00,118.69 581.00,118.89 582.00,119.28 583.00,119.46 584.00,119.90 585.00,119.79 586.00,120.21 587.00,120.57 588.00,120.68 589.00,120.87 590.00,121.14 591.00,121.24 592.00,121.59 593.00,122.01 594.00,122.06 595.00,122.02 596.00,122.21 597.00,122.42 598.00,122.72 599.00,122.68 600.00,122.84 601.00,123.14 602.00,123.27 603.00,123.28 604.00,123.33 605.00,123.41 606.00,123.61 607.00,123.58 608.00,123.99 609.00,123.97 610.00,124.19 611.00,124.44 612.00,124.48 613.00,124.36 614.00,124.67 615.00,124.80 616.00,124.72 617.00,124.80 618.00,124.99 619.00,124.94 620.00,125.35 621.00,125.06 622.00,125.28 623.00,125.46 624.00,125.56 625.00,125.69 626.00,125.78 627.00,125.82 628.00,126.04 629.00,125.80 630.00,126.09 631.00,126.09 632.00,126.25 633.00,126.34 634.00,126.29 635.00,126.39 636.00,126.60 637.00,126.61 638.00,126.57 639.00,126.90 640.00,126.98 641.00,126.66 642.00,126.88 643.00,127.15 644.00,127.02 645.00,127.01 646.00,127.00 647.00,127.01 648.00,127.07 649.00,127.07 650.00,127.23 651.00,127.14 652.00,127.15 653.00,127.10 654.00,127.23 655.00,127.16 656.00,127.24 657.00,127.37 658.00,127.31 659.00,127.33 660.00,127.32 661.00,127.29 662.00,127.28 663.00,127.26 664.00,127.36 665.00,127.17 666.00,127.41 667.00,127.28 668.00,127.19 669.00,127.21 670.00,127.19 671.00,127.27 672.00,127.17 672.50,127.35" fill="none" stroke="#2424d4" stroke-width="1.2" stroke-linejoin="round"/>
<path d="M183.80,51.40 l5.2,-1.35 l0,2.7z" fill="#111"/>
<path d="M203.40,69.50 l5.2,-1.35 l0,2.7z" fill="#111"/>
<path d="M213.90,89.60 l5.2,-1.35 l0,2.7z" fill="#111"/>
<path d="M507.90,79.30 l5.2,-1.35 l0,2.7z" fill="#111"/>
<path d="M506.20,97.20 l5.2,-1.35 l0,2.7z" fill="#111"/>
<path d="M538.20,114.80 l5.2,-1.35 l0,2.7z" fill="#111"/>
<path d="M168.10,91.30 l-1.35,5.2 l2.7,0z" fill="#111"/>
<path d="M487.30,110.40 l-1.35,5.2 l2.7,0z" fill="#111"/>
<g transform="matrix(1.0000,0,0,1.0000,29.800,214.600)"><text font-family="Liberation Sans, sans-serif" font-weight="bold" font-size="10.1" fill="#111">0.0</text></g>
<g transform="matrix(1.0000,0,0,1.0000,29.800,180.317)"><text font-family="Liberation Sans, sans-serif" font-weight="bold" font-size="10.1" fill="#111">0.5</text></g>
<g transform="matrix(1.0000,0,0,1.0000,29.800,146.033)"><text font-family="Liberation Sans, sans-serif" font-weight="bold" font-size="10.1" fill="#111">1.0</text></g>
<g transform="matrix(1.0000,0,0,1.0000,29.800,111.750)"><text font-family="Liberation Sans, sans-serif" font-weight="bold" font-size="10.1" fill="#111">1.5</text></g>
<g transform="matrix(1.0000,0,0,1.0000,29.800,77.467)"><text font-family="Liberation Sans, sans-serif" font-weight="bold" font-size="10.1" fill="#111">2.0</text></g>
<g transform="matrix(1.0000,0,0,1.0000,29.800,43.183)"><text font-family="Liberation Sans, sans-serif" font-weight="bold" font-size="10.1" fill="#111">2.5</text></g>
<g transform="matrix(1.0000,0,0,1.0000,29.800,8.900)"><text font-family="Liberation Sans, sans-serif" font-weight="bold" font-size="10.1" fill="#111">3.0</text></g>
<g transform="matrix(1.0000,0,0,1.0000,78.875,227.825)"><text font-family="Liberation Sans, sans-serif" font-weight="bold" font-size="10.4" fill="#111">800</text></g>
<g transform="matrix(1.0000,0,0,1.0000,146.350,227.825)"><text font-family="Liberation Sans, sans-serif" font-weight="bold" font-size="10.4" fill="#111">1000</text></g>
<g transform="matrix(1.0000,0,0,1.0000,216.950,227.825)"><text font-family="Liberation Sans, sans-serif" font-weight="bold" font-size="10.4" fill="#111">1200</text></g>
<g transform="matrix(1.0000,0,0,1.0000,287.550,227.825)"><text font-family="Liberation Sans, sans-serif" font-weight="bold" font-size="10.4" fill="#111">1400</text></g>
<g transform="matrix(1.0561,0,0,0.9767,144.350,248.008)"><text font-family="Liberation Sans, sans-serif" font-weight="bold" font-size="11.5" fill="#111">Wavelength (nm)</text></g>
<g transform="matrix(1.0847,0,0,1.1078,15.509,172.427)"><text transform="rotate(-90)" font-family="Liberation Sans, sans-serif" font-weight="bold" font-size="11" fill="#111">Absorbance (cm<tspan dy="-5">-1</tspan><tspan dy="5">)</tspan></text></g>
<g transform="matrix(0.7818,0,0,0.9447,158.359,281.778)"><text font-family="Liberation Sans, sans-serif" font-size="20" fill="#111" stroke="#111" stroke-width="0.9">a</text></g>
<g transform="matrix(1.0144,0,0,1.0533,210.243,55.650)"><text font-family="Liberation Sans, sans-serif" font-weight="bold" font-size="10.9" fill="#111">GM 1.5Sn</text></g>
<g transform="matrix(1.0021,0,0,1.0267,236.449,73.150)"><text font-family="Liberation Sans, sans-serif" font-weight="bold" font-size="10.9" fill="#111">GM 1.0Sn</text></g>
<g transform="matrix(1.0144,0,0,1.0267,259.643,93.450)"><text font-family="Liberation Sans, sans-serif" font-weight="bold" font-size="10.9" fill="#111">GM 0.5Sn</text></g>
<g transform="matrix(1.0191,0,0,0.9867,155.840,114.650)"><text font-family="Liberation Sans, sans-serif" font-weight="bold" font-size="10.9" fill="#111">GM 0Sn</text></g>
<g transform="matrix(1.0000,0,0,1.0000,370.100,222.850)"><text font-family="Liberation Sans, sans-serif" font-weight="bold" font-size="9.5" fill="#111">0.0</text></g>
<g transform="matrix(1.0000,0,0,1.0000,369.850,188.633)"><text font-family="Liberation Sans, sans-serif" font-weight="bold" font-size="9.5" fill="#111">0.5</text></g>
<g transform="matrix(1.0000,0,0,1.0000,370.100,154.417)"><text font-family="Liberation Sans, sans-serif" font-weight="bold" font-size="9.5" fill="#111">1.0</text></g>
<g transform="matrix(1.0000,0,0,1.0000,369.850,120.200)"><text font-family="Liberation Sans, sans-serif" font-weight="bold" font-size="9.5" fill="#111">1.5</text></g>
<g transform="matrix(1.0000,0,0,1.0000,370.100,85.983)"><text font-family="Liberation Sans, sans-serif" font-weight="bold" font-size="9.5" fill="#111">2.0</text></g>
<g transform="matrix(1.0000,0,0,1.0000,369.850,51.767)"><text font-family="Liberation Sans, sans-serif" font-weight="bold" font-size="9.5" fill="#111">2.5</text></g>
<g transform="matrix(1.0000,0,0,1.0000,370.100,17.550)"><text font-family="Liberation Sans, sans-serif" font-weight="bold" font-size="9.5" fill="#111">3.0</text></g>
<g transform="matrix(1.0000,0,0,1.0000,400.075,234.000)"><text font-family="Liberation Sans, sans-serif" font-weight="bold" font-size="8.6" fill="#111">800</text></g>
<g transform="matrix(1.0000,0,0,1.0000,463.975,234.000)"><text font-family="Liberation Sans, sans-serif" font-weight="bold" font-size="8.6" fill="#111">1000</text></g>
<g transform="matrix(1.0000,0,0,1.0000,530.375,234.000)"><text font-family="Liberation Sans, sans-serif" font-weight="bold" font-size="8.6" fill="#111">1200</text></g>
<g transform="matrix(1.0000,0,0,1.0000,596.775,234.000)"><text font-family="Liberation Sans, sans-serif" font-weight="bold" font-size="8.6" fill="#111">1400</text></g>
<g transform="matrix(1.0000,0,0,1.0000,663.175,234.000)"><text font-family="Liberation Sans, sans-serif" font-weight="bold" font-size="8.6" fill="#111">1600</text></g>
<g transform="matrix(1.0031,0,0,1.0300,491.199,252.275)"><text font-family="Liberation Serif, serif" font-weight="bold" font-size="11" fill="#111">Wavelength (nm)</text></g>
<g transform="matrix(0.9559,0,0,1.0572,356.499,170.214)"><text transform="rotate(-90)" font-family="Liberation Serif, serif" font-weight="bold" font-size="10.5" fill="#111">Absorbance (cm<tspan dy="-5.5">-1</tspan><tspan dy="5.5">)</tspan></text></g>
<g transform="matrix(0.9561,0,0,0.9152,539.394,281.164)"><text font-family="Liberation Sans, sans-serif" font-size="21" fill="#111" stroke="#111" stroke-width="0.9">b</text></g>
<g transform="matrix(0.9953,0,0,0.9926,525.852,82.250)"><text font-family="Liberation Sans, sans-serif" font-weight="bold" font-size="9.8" fill="#111">GC 1.5Sn</text></g>
<g transform="matrix(1.0047,0,0,0.9926,550.848,99.750)"><text font-family="Liberation Sans, sans-serif" font-weight="bold" font-size="9.8" fill="#111">GC 1.0Sn</text></g>
<g transform="matrix(1.0165,0,0,0.9926,596.942,116.250)"><text font-family="Liberation Sans, sans-serif" font-weight="bold" font-size="9.8" fill="#111">GC 0.5Sn</text></g>
<g transform="matrix(1.0219,0,0,1.0222,468.639,149.550)"><text font-family="Liberation Sans, sans-serif" font-weight="bold" font-size="9.8" fill="#111">GC 0Sn</text></g>
</svg>
</body></html>
